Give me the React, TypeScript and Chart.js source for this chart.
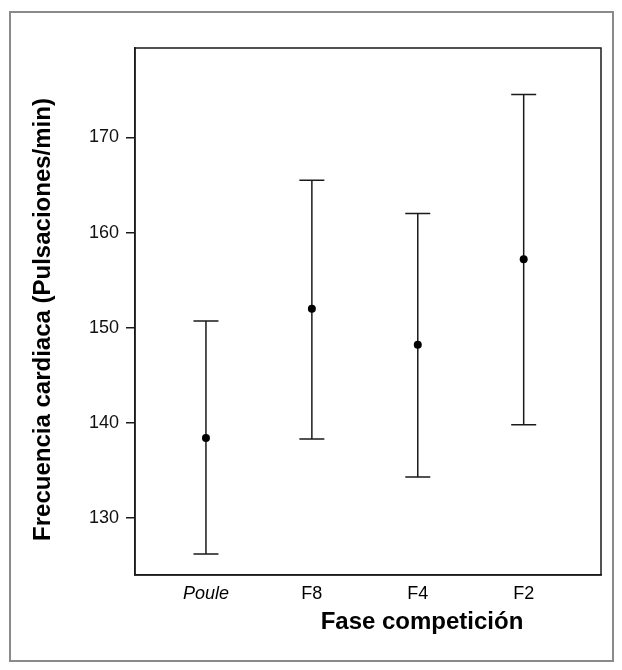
import React, { useEffect, useRef } from "react";
import { Chart, registerables } from "chart.js";

Chart.register(...registerables);

const categories = ["Poule", "F8", "F4", "F2"];
const means = [138.4, 152.0, 148.2, 157.2];
const lower = [126.2, 138.3, 134.3, 139.8];
const upper = [150.7, 165.5, 162.0, 174.5];
const yTickValues = [130, 140, 150, 160, 170];

const xTitle = "Fase competición";
const yTitle = "Frecuencia cardiaca (Pulsaciones/min)";

const FONT = "'Liberation Sans', Arial, Helvetica, sans-serif";

const errorBarPlugin = {
  id: "errorBars",
  beforeDatasetsDraw(chart: any) {
    const { ctx, scales } = chart;
    const xs = scales.x;
    const ys = scales.y;
    ctx.save();
    ctx.strokeStyle = "#1a1a1a";
    ctx.lineWidth = 1.5;
    const capHalf = 12.5;
    categories.forEach((_, i) => {
      const px = xs.getPixelForValue(i);
      const pLow = ys.getPixelForValue(lower[i]);
      const pHigh = ys.getPixelForValue(upper[i]);
      ctx.beginPath();
      ctx.moveTo(px, pLow);
      ctx.lineTo(px, pHigh);
      ctx.moveTo(px - capHalf, pLow);
      ctx.lineTo(px + capHalf, pLow);
      ctx.moveTo(px - capHalf, pHigh);
      ctx.lineTo(px + capHalf, pHigh);
      ctx.stroke();
    });
    ctx.restore();
  },
};

const framePlugin = {
  id: "plotFrame",
  afterDraw(chart: any) {
    const { ctx, chartArea } = chart;
    ctx.save();
    ctx.strokeStyle = "#1a1a1a";
    ctx.lineWidth = 1.5;
    ctx.strokeRect(
      chartArea.left,
      chartArea.top,
      chartArea.right - chartArea.left,
      chartArea.bottom - chartArea.top
    );
    ctx.fillStyle = "#000";
    ctx.font = `bold 24px ${FONT}`;
    ctx.textAlign = "center";
    ctx.textBaseline = "middle";
    // x axis title
    const cx = (chartArea.left + chartArea.right) / 2 + 54;
    ctx.fillText(xTitle, cx, chartArea.bottom + 47);
    // y axis title
    const cy = (chartArea.top + chartArea.bottom) / 2 + 8;
    ctx.translate(43, cy);
    ctx.rotate(-Math.PI / 2);
    ctx.fillText(yTitle, 0, 0);
    ctx.restore();
  },
};

export default function App() {
  const canvasRef = useRef<HTMLCanvasElement | null>(null);

  useEffect(() => {
    const canvas = canvasRef.current;
    if (!canvas) return;
    const chart = new Chart(canvas, {
      type: "scatter",
      data: {
        datasets: [
          {
            data: means.map((m, i) => ({ x: i, y: m })),
            pointRadius: 4,
            pointHoverRadius: 4,
            backgroundColor: "#000",
            borderColor: "#000",
            borderWidth: 0,
          },
        ],
      },
      options: {
        responsive: false,
        animation: false,
        devicePixelRatio: 1,
        layout: { padding: { left: 0, top: 48, right: 21, bottom: 0 } },
        plugins: {
          legend: { display: false },
          tooltip: { enabled: false },
        },
        scales: {
          x: {
            type: "linear",
            min: -0.67,
            max: 3.73,
            afterBuildTicks: (s: any) => {
              s.ticks = categories.map((_, i) => ({ value: i }));
            },
            afterFit: (s: any) => {
              s.height = 95;
            },
            grid: { display: false, drawTicks: false },
            border: { display: true, color: "#1a1a1a", width: 1.5 },
            ticks: {
              autoSkip: false,
              maxRotation: 0,
              padding: 8,
              color: "#000",
              callback: (v: any) => categories[v as number] ?? "",
              font: (ctx: any) => ({
                family: FONT,
                size: 18,
                style: ctx.index === 0 ? "italic" : "normal",
              }),
            },
          },
          y: {
            type: "linear",
            min: 124,
            max: 179.4,
            afterBuildTicks: (s: any) => {
              s.ticks = yTickValues.map((v) => ({ value: v }));
            },
            afterFit: (s: any) => {
              s.width = 135;
            },
            grid: {
              drawOnChartArea: false,
              tickLength: 9,
              color: "#1a1a1a",
              lineWidth: 1.5,
            },
            border: { display: true, color: "#1a1a1a", width: 1.5 },
            ticks: {
              padding: 7,
              color: "#111",
              font: { family: FONT, size: 18 },
            },
          },
        },
      },
      plugins: [errorBarPlugin, framePlugin],
    });
    return () => chart.destroy();
  }, []);

  return (
    <div
      style={{
        position: "absolute",
        left: 0,
        top: 0,
        width: 622,
        height: 670,
        background: "#fff",
      }}
    >
      <div
        style={{
          position: "absolute",
          left: 9,
          top: 11,
          width: 605,
          height: 651,
          border: "2px solid #8a8a8a",
          boxSizing: "border-box",
        }}
      />
      <canvas
        ref={canvasRef}
        width={622}
        height={670}
        style={{ position: "absolute", left: 0, top: 0, width: 622, height: 670 }}
      />
    </div>
  );
}
